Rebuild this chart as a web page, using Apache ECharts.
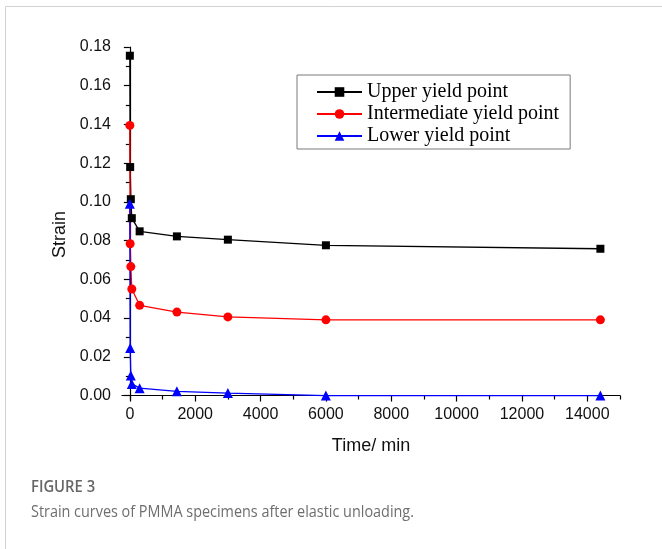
<!DOCTYPE html>
<html>
<head>
<meta charset="utf-8">
<script src="https://cdn.jsdelivr.net/npm/echarts@6/dist/echarts.min.js"></script>
<style>
  html, body { margin: 0; padding: 0; background: #ffffff; }
  #chart { width: 662px; height: 549px; }
</style>
</head>
<body>
<div id="chart"></div>
<script>
// Recovery time after unloading (min) and measured strain of each yield level
const timeMin = [0, 10, 30, 60, 300, 1440, 3000, 6000, 14400];
const upperYield = [0.1755, 0.1180, 0.1014, 0.0916, 0.0848, 0.0822, 0.0805, 0.0776, 0.0758];
const intermediateYield = [0.1395, 0.0784, 0.0666, 0.0550, 0.0466, 0.0431, 0.0406, 0.0391, 0.0391];
const lowerYield = [0.0990, 0.0245, 0.0103, 0.0060, 0.0038, 0.0022, 0.0013, 0.0000, 0.0000];

const seriesNames = ['Upper yield point', 'Intermediate yield point', 'Lower yield point'];

// Axis tick positions
const xMajorTicks = [0, 2000, 4000, 6000, 8000, 10000, 12000, 14000];
const xMinorTicks = [1000, 3000, 5000, 7000, 9000, 11000, 13000, 15000];
const yMajorTicks = [0, 0.02, 0.04, 0.06, 0.08, 0.10, 0.12, 0.14, 0.16, 0.18];
const yMinorTicks = [0.01, 0.03, 0.05, 0.07, 0.09, 0.11, 0.13, 0.15, 0.17];

const X_MIN = -240, X_MAX = 15000;
const Y_MIN = -0.0023, Y_MAX = 0.18;

const pairs = ys => timeMin.map((t, i) => [t, ys[i]]);

const sansFamily = '"Liberation Sans", Arial, sans-serif';
const axisFont = { fontFamily: sansFamily, fontSize: 16, color: '#111' };

const chart = echarts.init(document.getElementById('chart'), null, { renderer: 'canvas' });

chart.setOption({
  backgroundColor: '#ffffff',
  animation: false,
  grid: { left: 122, top: 47, width: 498, height: 353, containLabel: false },
  legend: {
    orient: 'vertical',
    left: 297,
    top: 75,
    itemWidth: 45,
    itemHeight: 12,
    itemGap: 2,
    padding: [7, 11, 3, 19],
    borderColor: '#7a7a7a',
    borderWidth: 1,
    textStyle: { fontFamily: '"Liberation Serif", "Times New Roman", serif', fontSize: 20, color: '#000' },
    data: seriesNames
  },
  xAxis: [
    {
      type: 'value', min: X_MIN, max: X_MAX, position: 'bottom',
      name: 'Time/ min', nameLocation: 'middle', nameGap: 37,
      nameTextStyle: { fontFamily: sansFamily, fontSize: 18, color: '#111' },
      axisLine: { show: true, lineStyle: { color: '#000', width: 1.2 } },
      axisTick: { show: true, inside: false, length: 6, customValues: xMajorTicks, lineStyle: { color: '#000', width: 1.2 } },
      axisLabel: { show: true, margin: 7, customValues: xMajorTicks, ...axisFont, formatter: v => String(v) },
      splitLine: { show: false }
    },
    {
      type: 'value', min: X_MIN, max: X_MAX, position: 'bottom', gridIndex: 0,
      axisLine: { show: false },
      axisTick: { show: true, inside: false, length: 4, customValues: xMinorTicks, lineStyle: { color: '#000', width: 1.2 } },
      axisLabel: { show: false },
      splitLine: { show: false }
    }
  ],
  yAxis: [
    {
      type: 'value', min: Y_MIN, max: Y_MAX, position: 'left',
      name: 'Strain', nameLocation: 'middle', nameGap: 50, nameRotate: 90,
      nameTextStyle: { fontFamily: sansFamily, fontSize: 18, color: '#111', padding: [0, 22, 0, 0] },
      axisLine: { show: true, lineStyle: { color: '#000', width: 1.2 } },
      axisTick: { show: true, inside: false, length: 6, customValues: yMajorTicks, lineStyle: { color: '#000', width: 1.2 } },
      axisLabel: {
        show: true, margin: 11, customValues: yMajorTicks, ...axisFont,
        formatter: v => v.toFixed(2)
      },
      splitLine: { show: false }
    },
    {
      type: 'value', min: Y_MIN, max: Y_MAX, position: 'left', gridIndex: 0,
      axisLine: { show: false },
      axisTick: { show: true, inside: false, length: 4, customValues: yMinorTicks, lineStyle: { color: '#000', width: 1.2 } },
      axisLabel: { show: false },
      splitLine: { show: false }
    }
  ],
  series: [
    {
      name: seriesNames[0], type: 'line', data: pairs(upperYield),
      symbol: 'rect', symbolSize: 8, clip: false,
      lineStyle: { color: '#000000', width: 1.3 },
      itemStyle: { color: '#000000' }
    },
    {
      name: seriesNames[1], type: 'line', data: pairs(intermediateYield),
      symbol: 'circle', symbolSize: 9, clip: false,
      lineStyle: { color: '#ff0000', width: 1.3 },
      itemStyle: { color: '#ff0000' }
    },
    {
      name: seriesNames[2], type: 'line', data: pairs(lowerYield),
      symbol: 'triangle', symbolSize: 10, clip: false,
      lineStyle: { color: '#0000ff', width: 1.3 },
      itemStyle: { color: '#0000ff' }
    }
  ],
  graphic: [
    {
      type: 'polyline', silent: true,
      shape: { points: [[5.5, 549], [5.5, 6.5], [662, 6.5]] },
      style: { stroke: '#d2d2d2', lineWidth: 1, fill: null }
    },
    {
      type: 'text', x: 31, y: 479, scaleX: 0.87, silent: true,
      style: { text: 'FIGURE 3', font: '600 17px "Open Sans", sans-serif', fill: '#666666', align: 'left', verticalAlign: 'top' }
    },
    {
      type: 'text', x: 31, y: 504, scaleX: 0.9, silent: true,
      style: { text: 'Strain curves of PMMA specimens after elastic unloading.', font: '16px "Open Sans", sans-serif', fill: '#6e6e6e', align: 'left', verticalAlign: 'top' }
    }
  ]
});
</script>
</body>
</html>
